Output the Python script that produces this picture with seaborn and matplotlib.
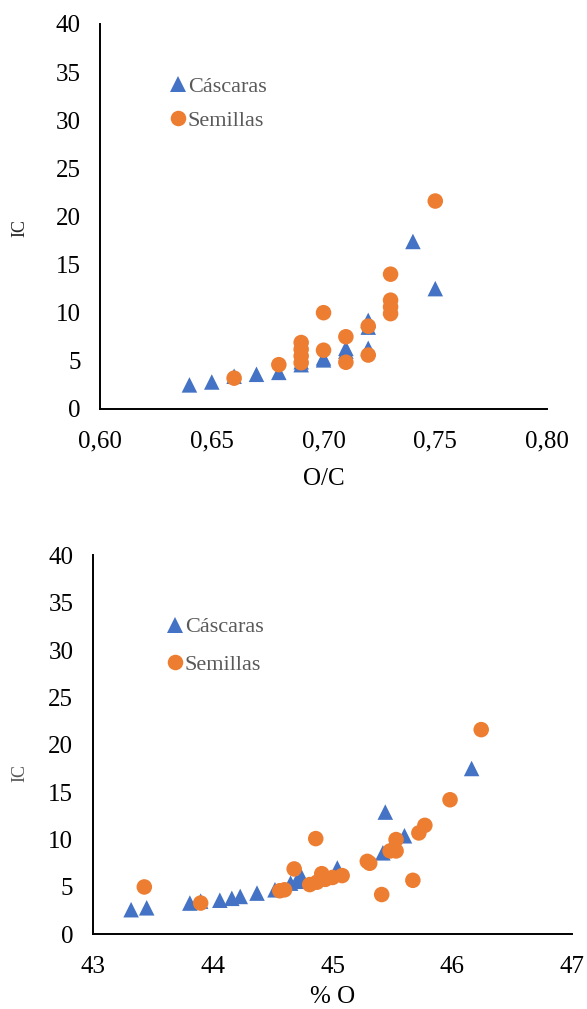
import matplotlib
matplotlib.use("Agg")
import matplotlib.pyplot as plt
import seaborn as sns
import pandas as pd
from matplotlib.ticker import FuncFormatter

# ---- data: top panel (O/C vs IC) ----
oc_cascaras_x = [0.64, 0.65, 0.66, 0.67, 0.68, 0.69, 0.69, 0.70, 0.70, 0.71, 0.71, 0.72, 0.72, 0.72, 0.74, 0.75]
oc_cascaras_y = [2.5, 2.8, 3.4, 3.6, 3.8, 4.6, 4.9, 5.1, 5.3, 6.0, 6.3, 6.3, 8.5, 9.2, 17.4, 12.5]
oc_semillas_x = [0.66, 0.68, 0.69, 0.69, 0.69, 0.69, 0.70, 0.70, 0.71, 0.71, 0.72, 0.72, 0.73, 0.73, 0.73, 0.73, 0.75]
oc_semillas_y = [3.2, 4.6, 6.9, 6.2, 5.5, 4.8, 10.0, 6.1, 7.5, 4.85, 8.6, 5.6, 14.0, 11.3, 10.6, 9.9, 21.6]

# ---- data: bottom panel (% O vs IC) ----
po_cascaras_x = [43.32, 43.45, 43.81, 43.90, 44.06, 44.16, 44.23, 44.37, 44.52, 44.65, 44.70, 44.74, 44.93, 45.04, 45.44, 45.42, 45.50, 45.60, 46.16]
po_cascaras_y = [2.6, 2.8, 3.3, 3.5, 3.6, 3.8, 4.0, 4.35, 4.7, 5.4, 5.6, 6.1, 6.3, 7.0, 12.9, 8.6, 9.5, 10.4, 17.5]
po_semillas_x = [43.43, 43.90, 44.56, 44.60, 44.68, 44.81, 44.86, 44.87, 44.91, 44.94, 45.00, 45.08, 45.29, 45.31, 45.41, 45.48, 45.53, 45.53, 45.67, 45.72, 45.77, 45.98, 46.24]
po_semillas_y = [5.0, 3.3, 4.6, 4.7, 6.9, 5.25, 10.1, 5.5, 6.4, 5.8, 6.0, 6.2, 7.7, 7.5, 4.2, 8.8, 8.8, 10.0, 5.7, 10.7, 11.5, 14.2, 21.6]

series_names = ["Cáscaras", "Semillas"]
oc_xticks = [0.60, 0.65, 0.70, 0.75, 0.80]
po_xticks = [43, 44, 45, 46, 47]
y_ticks = [0, 5, 10, 15, 20, 25, 30, 35, 40]

BLUE = "#4472C4"
ORANGE = "#ED7D31"

sns.set_theme(style="white")
plt.rcParams["font.family"] = ["Liberation Serif", "DejaVu Serif"]

def make_df(xc, yc, xs, ys):
    return pd.DataFrame({
        "x": list(xc) + list(xs),
        "y": list(yc) + list(ys),
        "serie": [series_names[0]] * len(xc) + [series_names[1]] * len(xs),
    })

fig = plt.figure(figsize=(5.87, 10.09), dpi=100)
ax1 = fig.add_axes([0.1704, 0.5947, 0.7615, 0.3816])
ax2 = fig.add_axes([0.158, 0.074, 0.817, 0.3757])

def style(ax, df, xticks, xlim, xlabel, xlabelpad, fmt, leg_anchor, lspace, ic_coords, ic_color):
    sns.scatterplot(data=df, x="x", y="y", hue="serie", style="serie",
                    markers={"Cáscaras": "^", "Semillas": "o"},
                    palette={"Cáscaras": BLUE, "Semillas": ORANGE},
                    s=125, linewidth=0, alpha=1, ax=ax, zorder=3)
    ax.set_xlim(*xlim)
    ax.set_ylim(0, 40)
    ax.set_xticks(xticks)
    ax.set_yticks(y_ticks)
    ax.xaxis.set_major_formatter(FuncFormatter(fmt))
    for s in ["top", "right"]:
        ax.spines[s].set_visible(False)
    for s in ["left", "bottom"]:
        ax.spines[s].set_color("black")
        ax.spines[s].set_linewidth(1.4)
    ax.tick_params(axis="both", which="major", direction="inout", length=10, width=1.4,
                   color="black", labelsize=18, labelcolor="black")
    ax.tick_params(axis="x", pad=10.5)
    ax.tick_params(axis="y", pad=9)
    ax.set_xlabel(xlabel, fontsize=18, color="black", labelpad=xlabelpad)
    ax.set_ylabel("IC", fontsize=13, color=ic_color)
    ax.yaxis.set_label_coords(*ic_coords)
    ax.grid(False)
    leg = ax.legend(loc="upper left", bbox_to_anchor=leg_anchor, frameon=False,
                    fontsize=16, handletextpad=0.05, handlelength=0.8,
                    labelspacing=lspace, borderaxespad=0, markerscale=1.0)
    for t in leg.get_texts():
        t.set_color("#595959")

df1 = make_df(oc_cascaras_x, oc_cascaras_y, oc_semillas_x, oc_semillas_y)
df2 = make_df(po_cascaras_x, po_cascaras_y, po_semillas_x, po_semillas_y)

style(ax1, df1, oc_xticks, (0.60, 0.80), "O/C", 11.5,
      lambda v, p: f"{v:.2f}".replace(".", ","), (0.134, 0.886), 0.6,
      (-0.161, 0.47), "#262626")
style(ax2, df2, po_xticks, (43, 47), "% O", 6,
      lambda v, p: f"{v:.0f}", (0.134, 0.861), 0.77,
      (-0.135, 0.425), "#595959")

fig.savefig("out.png", dpi=100, facecolor="white")
